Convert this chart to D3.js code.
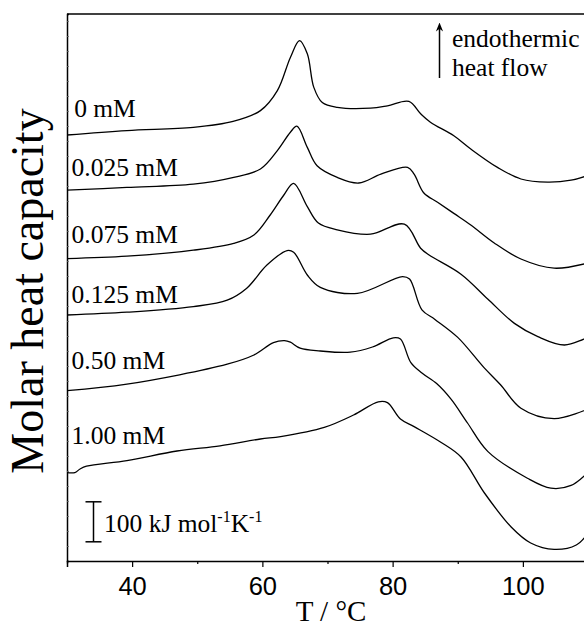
<!DOCTYPE html>
<html>
<head>
<meta charset="utf-8">
<script src="https://cdn.jsdelivr.net/npm/d3@7"></script>
<style>
  html, body { margin: 0; padding: 0; background: #fff; }
  svg { display: block; }
</style>
</head>
<body>
<script>
// ---- Data (T in °C, molar heat capacity in kJ mol^-1 K^-1, curves vertically offset) ----
const seriesLabels = ["0 mM", "0.025 mM", "0.075 mM", "0.125 mM", "0.50 mM", "1.00 mM"];

const T0 = [30, 39.2, 49.4, 55.5, 59.7, 62.3, 64.3, 65.7, 66.9, 67.9, 69.2, 71.5, 76.6, 79.2, 82.5, 84.3, 85.8, 89.4, 92.0, 96.1, 99.7, 103.8, 107.4, 110];
const C0 = [1065, 1076, 1084, 1099, 1126, 1176, 1259, 1301, 1268, 1184, 1146, 1134, 1132, 1138, 1149, 1118, 1097, 1063, 1030, 984, 955, 947, 952, 964];

const T1 = [30, 39.2, 49.4, 55.6, 59.7, 62.3, 64.3, 65.3, 66.9, 68.4, 71.5, 74.8, 78.2, 82.3, 83.3, 84.8, 86.9, 89.4, 92.0, 95.6, 99.7, 104.8, 110];
const C1 = [927, 934, 942, 959, 980, 1026, 1072, 1087, 1034, 988, 959, 945, 967, 984, 967, 920, 897, 869, 840, 795, 755, 732, 745];

const T2 = [30, 39.2, 49.4, 55.6, 58.7, 61.2, 63.3, 64.8, 66.9, 68.6, 71.5, 76.6, 81.8, 84.3, 85.6, 90.5, 94.6, 98.7, 102.3, 106.4, 110];
const C2 = [756, 762, 777, 794, 815, 865, 915, 944, 886, 845, 828, 817, 842, 782, 765, 717, 655, 594, 561, 540, 560];

const T3 = [30, 39.2, 49.4, 54.6, 57.6, 60.7, 63.8, 64.8, 66.9, 68.9, 74.6, 81.5, 82.6, 84.5, 86.5, 90.0, 94.0, 96.6, 99.7, 104.8, 110];
const C3 = [615, 622, 636, 652, 682, 740, 776, 772, 715, 684, 669, 711, 705, 628, 604, 559, 484, 440, 382, 356, 380];

const T4 = [30, 39.2, 54.6, 58.7, 61.7, 63.4, 64.3, 65.8, 68.9, 73.5, 76.9, 80.1, 81.2, 82.8, 84.5, 86.8, 89.0, 91.5, 94.6, 100.7, 104.3, 107.4, 110];
const C4 = [426, 442, 492, 515, 546, 551, 547, 532, 525, 522, 535, 558, 555, 496, 470, 443, 404, 345, 274, 207, 182, 189, 222];

const T5 = [30, 31.2, 32.0, 33.0, 39.2, 46.9, 53.5, 59.7, 62.8, 69.5, 74.0, 77.8, 79.2, 81.2, 83.3, 87.4, 90.5, 94.1, 98.2, 101.2, 104.8, 108.2, 110];
const C5 = [221, 221, 230, 237, 251, 275, 288, 305, 311, 334, 365, 398, 396, 355, 336, 297, 260, 170, 85, 45, 29, 40, 70];

const temps = [T0, T1, T2, T3, T4, T5];
const cps = [C0, C1, C2, C3, C4, C5];

// label anchor (value units) for each curve label
const labelT = [31.1, 30.7, 30.7, 30.7, 30.7, 30.7];
const labelCp = [1110, 963, 794, 646, 480, 292];

const xTicksMajor = [40, 60, 80, 100];
const xTicksMinor = [30, 50, 70, 90, 110];
const scaleBarValue = 100;   // kJ mol^-1 K^-1
const scaleBarBase = 48;

// ---- Layout ----
const W = 584, H = 632;
const svg = d3.select("body").append("svg").attr("width", W).attr("height", H);

const x = d3.scaleLinear().domain([30, 110]).range([67, 588]);
const y = d3.scaleLinear().domain([0, 1367.5]).range([561, 14]);

const serif = "'Liberation Serif', 'Times New Roman', serif";
const sans = "'Liberation Sans', Arial, sans-serif";
const FS = 25.5;

// frame: top line
svg.append("line").attr("x1", x(30)).attr("x2", x(110)).attr("y1", y(1367.5)).attr("y2", y(1367.5))
  .attr("stroke", "#000").attr("stroke-width", 1.5);

// x axis
const gx = svg.append("g").attr("transform", `translate(0,${y(0)})`);
gx.call(d3.axisBottom(x).tickValues(xTicksMajor).tickSize(6).tickFormat(d3.format("d")))
  .call(g => g.select(".domain").attr("stroke-width", 1.5))
  .call(g => g.selectAll(".tick line").attr("stroke-width", 1.2))
  .call(g => g.selectAll(".tick text").attr("font-family", sans).attr("font-size", 25.5).attr("dy", "0.98em").attr("fill", "#000"));
const gxm = svg.append("g").attr("transform", `translate(0,${y(0)})`);
gxm.call(d3.axisBottom(x).tickValues(xTicksMinor).tickSize(3).tickFormat(""))
  .call(g => g.select(".domain").remove())
  .call(g => g.selectAll(".tick line").attr("stroke-width", 1.2));

// y axis (no labels, small inward ticks)
const gy = svg.append("g").attr("transform", `translate(${x(30)},0)`);
gy.call(d3.axisLeft(y).tickValues(d3.range(37.5, 1367.5, 37.5)).tickSize(-2).tickFormat(""))
  .call(g => g.select(".domain").attr("stroke-width", 1.5))
  .call(g => g.selectAll(".tick line").attr("stroke", "#666").attr("stroke-width", 0.8));

// curves
const line = d3.line().x(d => x(d[0])).y(d => y(d[1])).curve(d3.curveCatmullRom.alpha(0.5));
svg.append("defs").append("clipPath").attr("id", "clip")
  .append("rect").attr("x", x(30)).attr("y", y(1367.5)).attr("width", x(110) - x(30)).attr("height", y(0) - y(1367.5));
const gc = svg.append("g").attr("clip-path", "url(#clip)");
temps.forEach((T, i) => {
  const pts = T.map((t, j) => [t, cps[i][j]]);
  gc.append("path").attr("d", line(pts)).attr("fill", "none").attr("stroke", "#000").attr("stroke-width", 1.3);
});

// curve labels
seriesLabels.forEach((s, i) => {
  svg.append("text").attr("x", x(labelT[i])).attr("y", y(labelCp[i]))
    .attr("font-family", serif).attr("font-size", FS).attr("fill", "#000").text(s);
});

// scale bar
const sbx = 93.5;
svg.append("line").attr("x1", sbx).attr("x2", sbx).attr("y1", y(scaleBarBase)).attr("y2", y(scaleBarBase + scaleBarValue))
  .attr("stroke", "#000").attr("stroke-width", 1.5);
[scaleBarBase, scaleBarBase + scaleBarValue].forEach(v => {
  svg.append("line").attr("x1", sbx - 8).attr("x2", sbx + 8).attr("y1", y(v)).attr("y2", y(v))
    .attr("stroke", "#000").attr("stroke-width", 1.5);
});
const sbt = svg.append("text").attr("x", 104).attr("y", 531.5)
  .attr("font-family", serif).attr("font-size", FS).attr("fill", "#000");
sbt.append("tspan").text("100 kJ mol");
sbt.append("tspan").attr("dy", -10).attr("font-size", 16).text("-1");
sbt.append("tspan").attr("dy", 10).text("K");
sbt.append("tspan").attr("dy", -10).attr("font-size", 16).text("-1");

// endothermic arrow
const defs = svg.select("defs");
defs.append("marker").attr("id", "arr").attr("viewBox", "0 0 10 10").attr("refX", 5).attr("refY", 5)
  .attr("markerWidth", 6).attr("markerHeight", 6).attr("orient", "auto")
  .append("path").attr("d", "M0,1 L10,5 L0,9 L3,5 Z").attr("fill", "#000");
svg.append("line").attr("x1", 439.5).attr("x2", 439.5).attr("y1", 78).attr("y2", 27)
  .attr("stroke", "#000").attr("stroke-width", 1.5).attr("marker-end", "url(#arr)");
svg.append("text").attr("x", 452).attr("y", 47).attr("font-family", serif).attr("font-size", FS).text("endothermic");
svg.append("text").attr("x", 452).attr("y", 76).attr("font-family", serif).attr("font-size", FS).text("heat flow");

// axis titles
svg.append("text").attr("x", 331).attr("y", 621).attr("text-anchor", "middle")
  .attr("font-family", serif).attr("font-size", 29).text("T / °C");
svg.append("text").attr("transform", "translate(43,291) rotate(-90)").attr("text-anchor", "middle")
  .attr("font-family", serif).attr("font-size", 46).text("Molar heat capacity");
</script>
</body>
</html>
